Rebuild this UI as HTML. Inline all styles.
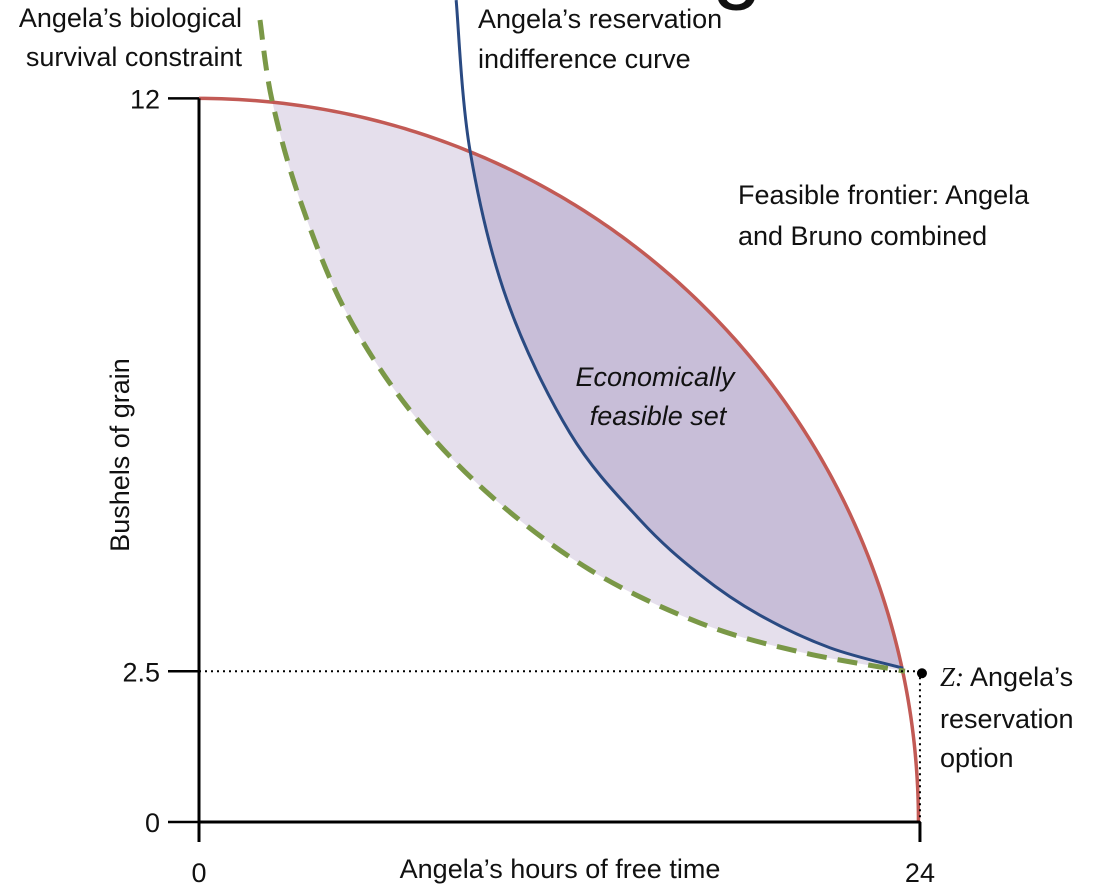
<!DOCTYPE html>
<html><head><meta charset="utf-8"><style>
html,body{margin:0;padding:0;background:#fff;}
svg{display:block;font-family:"Liberation Sans",sans-serif;}
</style></head><body>
<svg id="chart" width="1106" height="886" viewBox="0 0 1106 886" xmlns="http://www.w3.org/2000/svg">
<defs>
<clipPath id="belowFrontier"><path id="cpF" d=""/></clipPath>
</defs>
<g id="fills"></g>
<g id="lines"></g>
<g id="axes"></g>
<g id="labels" font-size="27" fill="#111">
<text x="712" y="-8" font-size="90">g</text>
<text text-anchor="end" x="242" y="27">Angela’s biological</text>
<text text-anchor="end" x="242" y="66">survival constraint</text>
<text x="478" y="28">Angela’s reservation</text>
<text x="478" y="68">indifference curve</text>
<text x="738" y="204">Feasible frontier: Angela</text>
<text x="738" y="245">and Bruno combined</text>
<text x="655" y="386" text-anchor="middle" font-style="italic">Economically</text>
<text x="658" y="425" text-anchor="middle" font-style="italic">feasible set</text>
<text x="940" y="686"><tspan font-family="Liberation Serif,serif" font-style="italic">Z:</tspan> Angela’s</text>
<text x="940" y="728">reservation</text>
<text x="940" y="767">option</text>
<text transform="translate(129,455) rotate(-90)" text-anchor="middle">Bushels of grain</text>
<text x="560" y="878" text-anchor="middle">Angela’s hours of free time</text>
</g>
</svg>
<script>
const survX=[2.03,2.43,3.36,4.86,7.02,9.69,13.02,16.68,20.01,23.50];
const survY=[13.30,11.97,10.32,8.49,6.83,5.42,4.18,3.30,2.82,2.50];
const indX=[8.56,9.02,10.25,12.35,14.68,16.68,18.67,21.00,23.44];
const indY=[13.63,11.14,8.66,6.45,5.01,4.10,3.43,2.89,2.55];
const frontierMaxX=23.95, frontierMaxY=12;
const zPoint=[24,2.5];
const yTicks=[0,2.5,12], yTickLabels=["0","2.5","12"];
const xTicks=[0,24], xTickLabels=["0","24"];
const xs=t=>199+t*30.04, ys=v=>822-v*60.3;
const NS="http://www.w3.org/2000/svg";
function mk(tag,attrs,parent){const e=document.createElementNS(NS,tag);for(const k in attrs)e.setAttribute(k,attrs[k]);parent.appendChild(e);return e;}
function smooth(X,Y){const p=X.map((x,i)=>[xs(x),ys(Y[i])]);let d=`M${p[0][0]},${p[0][1]}`;
for(let i=0;i<p.length-1;i++){const p0=p[i-1]||p[i],p1=p[i],p2=p[i+1],p3=p[i+2]||p2;
d+=` C${p1[0]+(p2[0]-p0[0])/6},${p1[1]+(p2[1]-p0[1])/6} ${p2[0]-(p3[0]-p1[0])/6},${p2[1]-(p3[1]-p1[1])/6} ${p2[0]},${p2[1]}`;}return d;}
let fd="";for(let i=0;i<=200;i++){const a=(Math.PI/2)*i/200;const x=frontierMaxX*Math.sin(a),y=frontierMaxY*Math.cos(a);fd+=(i?" L":"M")+xs(x).toFixed(2)+","+ys(y).toFixed(2);}
document.getElementById('cpF').setAttribute('d',fd+` L${xs(0)},${ys(0)} Z`);
const fills=document.getElementById('fills'),lines=document.getElementById('lines'),axes=document.getElementById('axes');
const sd=smooth(survX,survY), idd=smooth(indX,indY);
const light=mk('path',{d:sd+` L1100,${ys(survY[survY.length-1])} L1100,0 L${xs(survX[0])},0 Z`,fill:'#e5dfec','clip-path':'url(#belowFrontier)'},fills);


const dark=mk('path',{d:idd+` L1100,${ys(indY[indY.length-1])} L1100,0 L${xs(indX[0])},0 Z`,fill:'#c8bed8','clip-path':'url(#belowFrontier)'},fills);


const fl=mk('path',{d:fd,fill:'none',stroke:'#c25a55','stroke-width':3.5},lines);


const il=mk('path',{d:idd,fill:'none',stroke:'#2a4a82','stroke-width':3},lines);


const sl=mk('path',{d:sd,fill:'none',stroke:'#7a9847','stroke-width':5,'stroke-dasharray':'20 11'},lines);


mk('line',{x1:xs(0),y1:ys(0),x2:xs(24),y2:ys(0),stroke:'#000','stroke-width':3},axes);
mk('line',{x1:xs(0),y1:ys(12),x2:xs(0),y2:ys(0),stroke:'#000','stroke-width':3},axes);
yTicks.forEach((v,i)=>{mk('line',{x1:168,y1:ys(v),x2:xs(0),y2:ys(v),stroke:'#000','stroke-width':2.5},axes);
const t=mk('text',{x:160,y:ys(v)+10,'text-anchor':'end','font-size':27,fill:'#111'},axes);t.textContent=yTickLabels[i];

});
xTicks.forEach((v,i)=>{mk('line',{x1:xs(v),y1:ys(0),x2:xs(v),y2:ys(0)+20,stroke:'#000','stroke-width':3},axes);
const t=mk('text',{x:xs(v),y:882,'text-anchor':'middle','font-size':27,fill:'#111'},axes);t.textContent=xTickLabels[i];

});
mk('line',{x1:xs(0),y1:ys(zPoint[1]),x2:xs(zPoint[0]),y2:ys(zPoint[1]),stroke:'#000','stroke-width':2,'stroke-dasharray':'2 4'},axes);
mk('line',{x1:xs(zPoint[0]),y1:ys(zPoint[1]),x2:xs(zPoint[0]),y2:ys(0),stroke:'#000','stroke-width':2,'stroke-dasharray':'2 4'},axes);
const z=mk('circle',{cx:xs(zPoint[0])+2,cy:ys(zPoint[1])+2,r:5,fill:'#000'},axes);


</script>
</body></html>
